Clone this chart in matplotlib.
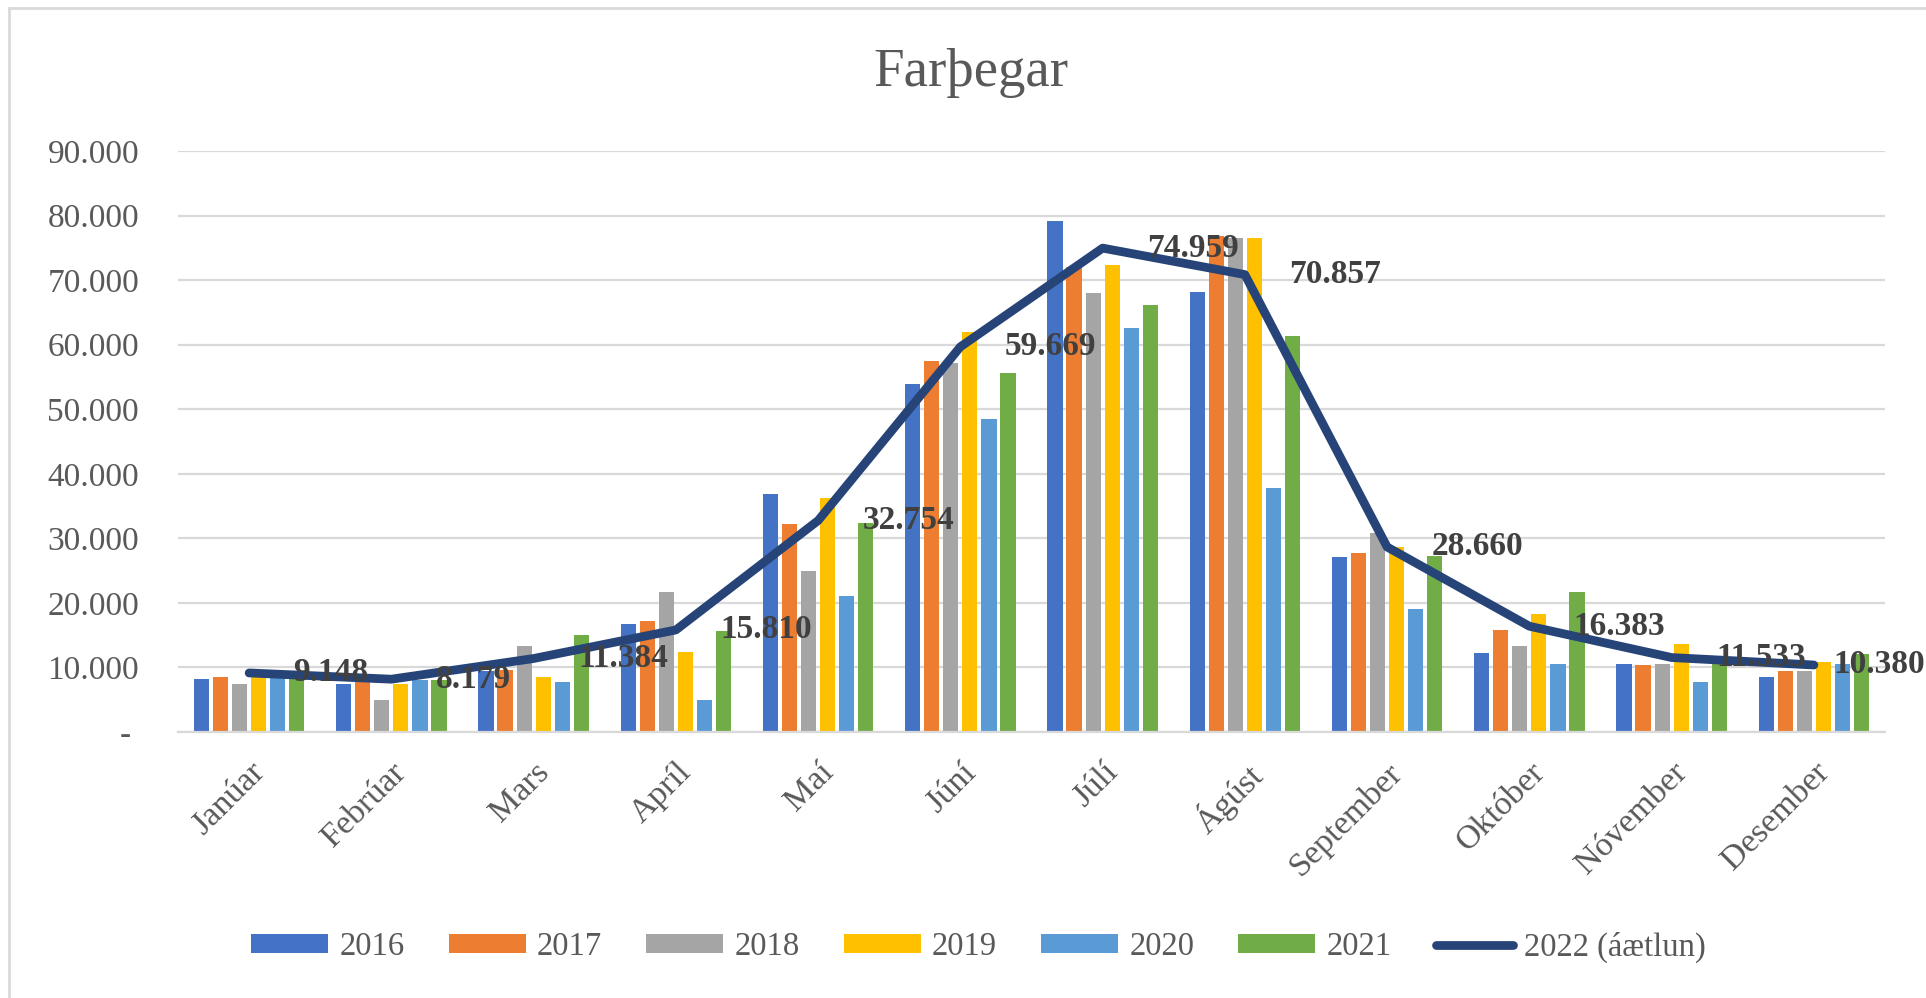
import matplotlib
matplotlib.use("Agg")
import matplotlib.pyplot as plt
from matplotlib.lines import Line2D
import matplotlib.transforms as mtransforms
import numpy as np

months = ["Janúar", "Febrúar", "Mars", "Apríl", "Maí", "Júní", "Júlí",
          "Ágúst", "September", "Október", "Nóvember", "Desember"]
years = ["2016", "2017", "2018", "2019", "2020", "2021"]
v2016 = [8200, 7400, 9500, 16700, 36900, 53900, 79200, 68200, 27100, 12200, 10600, 8550]
v2017 = [8550, 7700, 9600, 17200, 32200, 57500, 72000, 76900, 27700, 15800, 10400, 9450]
v2018 = [7400, 5000, 13300, 21700, 25000, 57200, 68000, 76600, 30900, 13300, 10600, 9450]
v2019 = [8600, 7400, 8550, 12400, 36300, 61900, 72400, 76500, 28600, 18300, 13600, 10900]
v2020 = [8300, 8000, 7700, 5000, 21100, 48500, 62600, 37800, 19000, 10600, 7700, 10600]
v2021 = [8700, 8000, 15100, 15700, 32400, 55600, 66100, 61300, 27300, 21700, 11600, 12100]
v2022 = [9148, 8179, 11384, 15810, 32754, 59669, 74959, 70857, 28660, 16383, 11533, 10380]
line_label = "2022 (áætlun)"
title = "Farþegar"
yticks = [0, 10000, 20000, 30000, 40000, 50000, 60000, 70000, 80000, 90000]

series = [v2016, v2017, v2018, v2019, v2020, v2021]
colors = ["#4472C4", "#ED7D31", "#A5A5A5", "#FFC000", "#5B9BD5", "#70AD47"]
line_color = "#264478"
text_gray = "#595959"
font = ["Liberation Serif", "DejaVu Serif"]

plt.rcParams["font.family"] = font


def fmt(v):
    return f"{v:,}".replace(",", ".")


W, H = 1926, 998
fig = plt.figure(figsize=(W / 100, H / 100), dpi=100)
ax = fig.add_axes([178 / W, 1 - 732 / H, (1885 - 178) / W, (732 - 151) / H])

x = np.arange(len(months))
step = 0.134
bw = 0.106
for i, (vals, c, lab) in enumerate(zip(series, colors, years)):
    off = (i - 2.5) * step
    ax.bar(x + off, vals, width=bw, color=c, label=lab, zorder=2)

lw_line = 6.3
ax.plot(x, v2022, color=line_color, lw=lw_line, solid_capstyle="round",
        solid_joinstyle="round", zorder=3)
n = len(v2022)
edge_trans = mtransforms.blended_transform_factory(fig.transFigure, ax.transData)
for k, (xi, v) in enumerate(zip(x, v2022)):
    if k < n - 1:
        ax.annotate(fmt(v), (xi, v), xytext=(32, 0),
                    textcoords="offset points", ha="left", va="center",
                    fontsize=24, fontweight="bold", color="#404040", zorder=4,
                    annotation_clip=False)
    else:
        # Excel pushes the last label inward so it stays inside the chart area
        ax.text(0.9995, v, fmt(v), transform=edge_trans, ha="right",
                va="center", fontsize=24, fontweight="bold", color="#404040",
                zorder=4, clip_on=False)

ax.set_xlim(-0.5, len(months) - 0.5)
ax.set_ylim(0, 90000)
ax.set_yticks(yticks)
ax.set_yticklabels(["- "] + [fmt(t) for t in yticks[1:]])
ax.set_xticks(x)
ax.set_xticklabels(months, rotation=45, ha="right", va="top",
                   rotation_mode="anchor")
ax.tick_params(axis="y", length=0, pad=28, labelsize=24, labelcolor=text_gray)
ax.tick_params(axis="x", length=0, pad=18, labelsize=24.5, labelcolor=text_gray)
ax.yaxis.grid(True, color="#D9D9D9", lw=1.6, zorder=0)
ax.set_axisbelow(True)
for s in ["top", "right", "left"]:
    ax.spines[s].set_visible(False)
ax.spines["bottom"].set_color("#D9D9D9")
ax.spines["bottom"].set_linewidth(1.6)

fig.text(0.504, 0.927, title, ha="center", va="center", fontsize=39.5,
         color=text_gray)

handles, labels = ax.get_legend_handles_labels()
handles.append(Line2D([0], [0], color=line_color, lw=lw_line,
                      solid_capstyle="round"))
labels.append(line_label)
fig.legend(handles, labels, loc="center", bbox_to_anchor=(0.508, 0.051),
           ncol=7, frameon=False, fontsize=23.5, labelcolor=text_gray,
           handlelength=2.36, handleheight=0.52, handletextpad=0.34,
           columnspacing=1.35)

# chart border (only top and left visible in the crop)
fig.add_artist(Line2D([9 / W, 9 / W], [0, 1 - 8 / H], color="#D9D9D9", lw=2,
                      transform=fig.transFigure))
fig.add_artist(Line2D([9 / W, 1], [1 - 8 / H, 1 - 8 / H], color="#D9D9D9", lw=2,
                      transform=fig.transFigure))

fig.savefig("out.png", dpi=100)
